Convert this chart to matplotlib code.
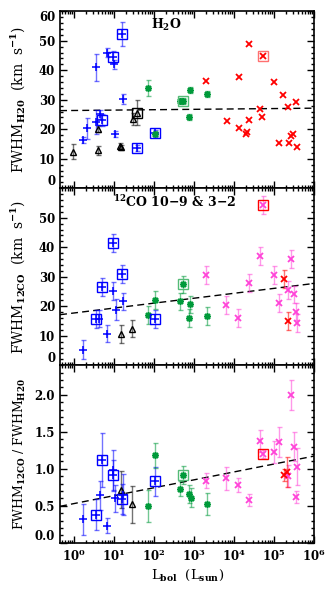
import numpy as np
import matplotlib
matplotlib.use("Agg")
import matplotlib.pyplot as plt
from matplotlib.ticker import FixedLocator, AutoMinorLocator, LogFormatterSciNotation, NullFormatter

plt.rcParams['font.family'] = 'DejaVu Serif'
plt.rcParams['font.weight'] = 'bold'
plt.rcParams['mathtext.fontset'] = 'custom'
plt.rcParams['mathtext.rm'] = 'DejaVu Serif:bold'
plt.rcParams['mathtext.it'] = 'DejaVu Serif:bold'
plt.rcParams['mathtext.bf'] = 'DejaVu Serif:bold'

BLUE = '#0000ff'
BLACK = '#000000'
GREEN = '#009a3a'
RED = '#ff0000'
PINK = '#ff44d8'

# ---- panel 1: H2O line widths ----
h2o_blue_x = [1.7, 2.1, 3.5, 3.5, 4.6, 6.6, 10, 10.6, 17]
h2o_blue_y = [16.3, 20.3, 41.0, 22.5, 25.0, 45.9, 42.0, 18.4, 30.1]
h2o_blue_e = [1.0, 3.6, 4.5, 4.0, 1.5, 1.5, 1.5, 1.0, 1.7]
h2o_bsq_x = [5.1, 9.6, 15.8, 37.6, 106]
h2o_bsq_y = [23.1, 44.6, 52.3, 13.7, 18.8]
h2o_bsq_e = [2.0, 2.0, 4.0, 1.0, 1.0]
h2o_tri_x = [0.96, 4.1, 4.1, 14, 15, 30, 37.6]
h2o_tri_y = [12.4, 12.9, 20.0, 14.3, 13.8, 23.4, 25.6]
h2o_tri_e = [2.5, 1.5, 1.0, 1.0, 1.0, 2.0, 4.3]
h2o_ksq_x = [37.6]
h2o_ksq_y = [25.6]
h2o_grn_x = [72, 106, 450, 540, 750, 810, 2080]
h2o_grn_y = [34.0, 18.5, 29.6, 29.6, 24.0, 33.3, 31.8]
h2o_grn_e = [2.8, 1.0, 1.0, 1.0, 1.0, 1.0, 1.0]
h2o_gsq_x = [540]
h2o_gsq_y = [29.6]
h2o_red_x = [1960, 6570, 13100, 13100, 20000, 21500, 23300, 24000, 44700, 51000, 54000,
             100000, 131000, 171000, 224000, 233000, 262000, 304000, 355000, 368000]
h2o_red_y = [36.3, 22.9, 37.6, 20.3, 18.3, 19.0, 48.9, 23.1, 26.8, 24.2, 44.9,
             36.1, 15.2, 31.6, 27.6, 15.2, 17.8, 18.4, 29.3, 14.1]
h2o_rsq_x = [54000]
h2o_rsq_y = [44.9]
h2o_fit = [26.35, 0.13]

# ---- panel 2: 12CO line widths ----
co_blue_x = [1.7, 4.3, 6.6, 9.6, 11, 17]
co_blue_y = [5.3, 15.8, 10.7, 25.2, 18.8, 21.6]
co_blue_e = [3.2, 3.0, 3.0, 3.0, 3.5, 3.0]
co_bsq_x = [3.55, 4.9, 9.6, 15.8, 106]
co_bsq_y = [15.7, 26.4, 41.4, 30.9, 15.7]
co_bsq_e = [3.0, 3.0, 3.0, 3.0, 3.0]
co_tri_x = [14.7, 29]
co_tri_y = [10.6, 12.4]
co_tri_e = [3.0, 3.0]
co_grn_x = [72, 106, 450, 540, 735, 790, 2080]
co_grn_y = [17.1, 22.1, 21.6, 27.4, 16.1, 20.6, 16.6]
co_grn_e = [3.0, 3.0, 3.0, 3.0, 3.0, 3.0, 3.0]
co_gsq_x = [540]
co_gsq_y = [27.4]
co_pnk_x = [1960, 6430, 12800, 23700, 45400, 53000, 102000, 133000, 228000, 267000, 310000, 361000, 376000]
co_pnk_y = [30.5, 20.4, 16.0, 27.8, 37.1, 54.3, 30.5, 21.0, 25.5, 36.1, 24.0, 18.2, 14.3]
co_pnk_e = [3.0, 3.0, 3.0, 3.0, 3.0, 3.0, 3.0, 3.0, 3.0, 3.0, 3.0, 3.0, 3.0]
co_red_x = [174000, 224000]
co_red_y = [29.2, 14.9]
co_red_e = [3.0, 3.0]
co_rsq_x = [53000]
co_rsq_y = [54.3]
co_fit = [17.7, 1.67]

# ---- panel 3: ratio ----
rt_blue_x = [1.7, 4.6, 6.6, 9.6, 10.5, 17]
rt_blue_y = [0.32, 0.64, 0.23, 0.98, 0.60, 0.65]
rt_blue_e = [0.21, 0.20, 0.10, 0.28, 0.18, 0.28]
rt_bsq_x = [3.55, 4.9, 9.6, 15.8, 106]
rt_bsq_y = [0.38, 1.12, 0.92, 0.59, 0.83]
rt_bsq_e = [0.21, 0.36, 0.20, 0.20, 0.20]
rt_tri_x = [14.7, 29]
rt_tri_y = [0.72, 0.52]
rt_tri_e = [0.25, 0.25]
rt_grn_x = [72, 106, 450, 540, 760, 820, 2080]
rt_grn_y = [0.50, 1.18, 0.73, 0.92, 0.66, 0.61, 0.52]
rt_grn_e = [0.22, 0.17, 0.10, 0.12, 0.12, 0.13, 0.15]
rt_gsq_x = [540]
rt_gsq_y = [0.92]
rt_pnk_x = [1960, 6430, 12800, 23700, 45400, 53000, 102000, 133000, 228000, 267000, 315000, 376000, 355000]
rt_pnk_y = [0.84, 0.87, 0.78, 0.58, 1.38, 1.20, 1.23, 1.36, 0.90, 2.0, 1.30, 1.03, 0.62]
rt_pnk_e = [0.10, 0.15, 0.10, 0.08, 0.15, 0.05, 0.15, 0.20, 0.15, 0.20, 0.20, 0.25, 0.08]
rt_red_x = [174000, 214000]
rt_red_y = [0.92, 0.96]
rt_red_e = [0.08, 0.20]
rt_rsq_x = [53000]
rt_rsq_y = [1.20]
rt_fit = [0.53, 0.107]

xmajor = [1e0, 1e1, 1e2, 1e3, 1e4, 1e5, 1e6]


def pts(ax, x, y, e, color, marker, ms, mew=1.1):
    if e is not None:
        ax.errorbar(x, y, yerr=e, fmt='none', ecolor=color, elinewidth=1.0,
                    capsize=1.8, capthick=1.0, alpha=0.55, zorder=2)
    ax.plot(x, y, linestyle='none', marker=marker, ms=ms, mew=mew,
            mec=color, mfc='none', color=color, zorder=3)


def squares(ax, x, y, color):
    ax.plot(x, y, linestyle='none', marker='s', ms=7.5, mew=1.0,
            mec=color, mfc='none', zorder=4)


def fitline(ax, fit):
    lx = np.array([np.log10(0.45), 6.0])
    ax.plot(10**lx, fit[0] + fit[1]*lx, 'k--', lw=1.0, dashes=(5, 3), zorder=1)


fig = plt.figure(figsize=(3.3, 5.9), dpi=100)
left, width = 0.182, 0.770
ax1 = fig.add_axes([left, 0.681, width, 0.300])
ax2 = fig.add_axes([left, 0.381, width, 0.300])
ax3 = fig.add_axes([left, 0.080, width, 0.301])

# panel 1
fitline(ax1, h2o_fit)
pts(ax1, h2o_tri_x, h2o_tri_y, h2o_tri_e, BLACK, '^', 5, 1.0)
pts(ax1, h2o_blue_x, h2o_blue_y, h2o_blue_e, BLUE, '+', 5.5)
pts(ax1, h2o_bsq_x, h2o_bsq_y, h2o_bsq_e, BLUE, '+', 5.5)
pts(ax1, h2o_grn_x, h2o_grn_y, h2o_grn_e, GREEN, (8, 2, 0), 5)
pts(ax1, h2o_red_x, h2o_red_y, None, RED, 'x', 5, 1.3)
squares(ax1, h2o_bsq_x, h2o_bsq_y, BLUE)
squares(ax1, h2o_ksq_x, h2o_ksq_y, BLACK)
squares(ax1, h2o_gsq_x, h2o_gsq_y, '#55bb77')
squares(ax1, h2o_rsq_x, h2o_rsq_y, '#ff7070')

# panel 2
fitline(ax2, co_fit)
pts(ax2, co_tri_x, co_tri_y, co_tri_e, BLACK, '^', 5, 1.0)
pts(ax2, co_blue_x, co_blue_y, co_blue_e, BLUE, '+', 5.5)
pts(ax2, co_bsq_x, co_bsq_y, co_bsq_e, BLUE, '+', 5.5)
pts(ax2, co_grn_x, co_grn_y, co_grn_e, GREEN, (8, 2, 0), 5)
pts(ax2, co_pnk_x, co_pnk_y, co_pnk_e, PINK, 'x', 5, 1.3)
pts(ax2, co_red_x, co_red_y, co_red_e, RED, 'x', 5, 1.3)
squares(ax2, co_bsq_x, co_bsq_y, BLUE)
squares(ax2, co_gsq_x, co_gsq_y, '#55bb77')
squares(ax2, co_rsq_x, co_rsq_y, RED)

# panel 3
fitline(ax3, rt_fit)
pts(ax3, rt_tri_x, rt_tri_y, rt_tri_e, BLACK, '^', 5, 1.0)
pts(ax3, rt_blue_x, rt_blue_y, rt_blue_e, BLUE, '+', 5.5)
pts(ax3, rt_bsq_x, rt_bsq_y, rt_bsq_e, BLUE, '+', 5.5)
pts(ax3, rt_grn_x, rt_grn_y, rt_grn_e, GREEN, (8, 2, 0), 5)
pts(ax3, rt_pnk_x, rt_pnk_y, rt_pnk_e, PINK, 'x', 5, 1.3)
pts(ax3, rt_red_x, rt_red_y, rt_red_e, RED, 'x', 5, 1.3)
squares(ax3, rt_bsq_x, rt_bsq_y, BLUE)
squares(ax3, rt_gsq_x, rt_gsq_y, '#55bb77')
squares(ax3, rt_rsq_x, rt_rsq_y, RED)

xminor = [m * d for d in [0.1] + xmajor[:-1] for m in range(2, 10)]
for ax in (ax1, ax2, ax3):
    ax.set_xscale('log')
    ax.set_xlim(0.45, 1e6)
    ax.xaxis.set_major_locator(FixedLocator(xmajor))
    ax.xaxis.set_major_formatter(LogFormatterSciNotation())
    ax.xaxis.set_minor_locator(FixedLocator([v for v in xminor if v > 0.45]))
    ax.xaxis.set_minor_formatter(NullFormatter())
    ax.tick_params(which='both', direction='in', top=True, right=True, labelsize=8.5, width=1.0)
    ax.tick_params(which='major', length=5)
    ax.tick_params(which='minor', length=2.5)
    for s in ax.spines.values():
        s.set_linewidth(1.2)

ax1.set_ylim(0, 60)
ax1.yaxis.set_major_locator(FixedLocator([0, 10, 20, 30, 40, 50, 60]))
ax2.set_ylim(0, 60)
ax2.yaxis.set_major_locator(FixedLocator([0, 10, 20, 30, 40, 50]))
ax3.set_ylim(0, 2.4)
ax3.yaxis.set_major_locator(FixedLocator([0, 0.5, 1.0, 1.5, 2.0]))
ax3.set_yticklabels(['0.0', '0.5', '1.0', '1.5', '2.0'])
for ax in (ax1, ax2):
    ax.yaxis.set_minor_locator(AutoMinorLocator(5))
    ax.tick_params(axis='x', labelbottom=False)
ax3.yaxis.set_minor_locator(AutoMinorLocator(5))

fig.canvas.draw()
for ax in (ax1, ax2, ax3):
    ax.yaxis.get_major_ticks()[0].label1.set_va('bottom')
ax1.yaxis.get_major_ticks()[-1].label1.set_va('top')

ax1.text(0.42, 0.92, r'H$_2$O', transform=ax1.transAxes, ha='center', va='center', fontsize=9)
ax2.text(0.45, 0.92, r'$^{12}$CO 10$-$9 & 3$-$2', transform=ax2.transAxes, ha='center', va='center', fontsize=9)

ax1.set_ylabel(r'FWHM$_{\rm H20}$  (km  s$^{-1}$)', fontsize=10)
ax2.set_ylabel(r'FWHM$_{\rm 12CO}$  (km  s$^{-1}$)', fontsize=10)
ax3.set_ylabel(r'FWHM$_{\rm 12CO}$ / FWHM$_{\rm H20}$', fontsize=9)
for ax in (ax1, ax2, ax3):
    ax.yaxis.set_label_coords(-0.125, 0.5)
ax3.set_xlabel(r'L$_{\rm bol}$  (L$_{\rm sun}$)', fontsize=9.5, labelpad=3)

fig.savefig('out.png', dpi=100)
